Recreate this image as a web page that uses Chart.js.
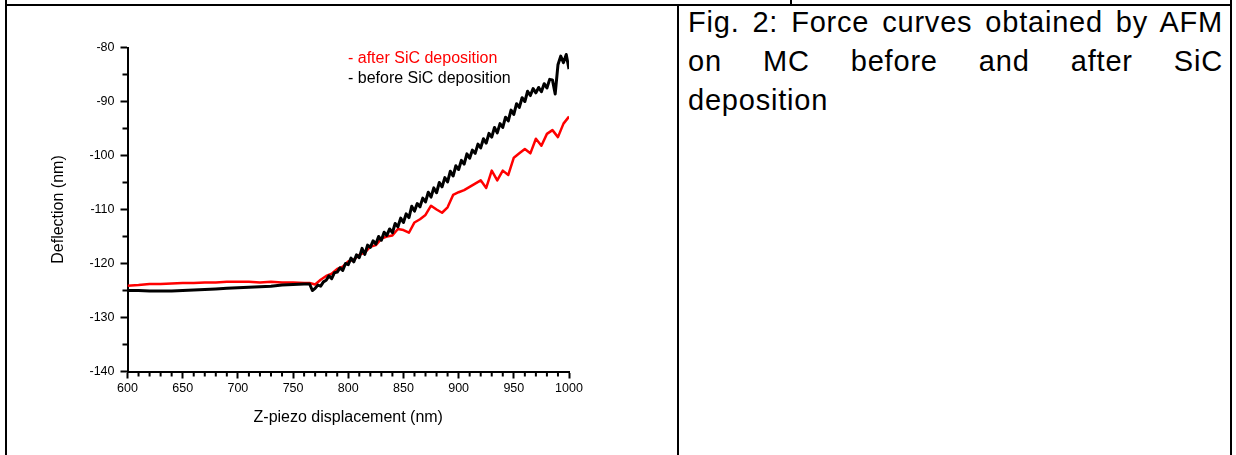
<!DOCTYPE html>
<html>
<head>
<meta charset="utf-8">
<script src="https://cdn.jsdelivr.net/npm/chart.js@4"></script>
<style>
  body{margin:0;background:#fff;font-family:"Liberation Sans",Arial,sans-serif;}
  #page{position:relative;width:1236px;height:455px;overflow:hidden;}
  .ln{position:absolute;background:#000;}
  #chartBox{position:absolute;left:0;top:0;width:678px;height:455px;}
  #legend{position:absolute;left:348px;top:48px;font-size:16px;line-height:20px;}
  #caption{position:absolute;left:688px;top:3px;width:535px;font-size:29px;letter-spacing:0.8px;line-height:39px;color:#000;}
  #caption .j{text-align:justify;text-align-last:justify;}
</style>
</head>
<body>
<div id="page">
  <div id="chartBox"><canvas id="afm"></canvas></div>
  <div id="legend"></div>
  <div id="caption">
    <div class="j">Fig. 2: Force curves obtained by AFM</div>
    <div class="j">on MC before and after SiC</div>
    <div>deposition</div>
  </div>
  <div class="ln" style="left:5px;top:0;width:2px;height:455px"></div>
  <div class="ln" style="left:1230px;top:0;width:2px;height:455px"></div>
  <div class="ln" style="left:790px;top:0;width:2px;height:5px"></div>
  <div class="ln" style="left:5px;top:4px;width:1227px;height:2px"></div>
  <div class="ln" style="left:677px;top:5px;width:2px;height:450px"></div>
</div>
<script>
// ---------- DATA ----------
const xTicks = [600, 650, 700, 750, 800, 850, 900, 950, 1000];
const yTicks = [-140, -130, -120, -110, -100, -90, -80];
const xMinor = [610,620,630,640,660,670,680,690,710,720,730,740,760,770,780,790,
  810,820,830,840,860,870,880,890,910,920,930,940,960,970,980,990];
const yMinor = [-135, -125, -115, -105, -95, -85];

const seriesNames = ['- before SiC deposition', '- after SiC deposition'];
const seriesColors = ['#000000', '#ff0000'];

// before SiC deposition (black)
const beforeX = [600,610,620,630,640,650,660,670,680,690,700,710,720,730,740,750,760,765,
  767.5,770,772.5,775,777.5,780,782.5,785,787.5,790,792.5,795,797.5,800,
  802.5,805,807.5,810,812.5,815,817.5,820,822.5,825,827.5,830,832.5,835,837.5,840,
  842.5,845,847.5,850,852.5,855,857.5,860,862.5,865,867.5,870,872.5,875,877.5,880,
  882.5,885,887.5,890,892.5,895,897.5,900,902.5,905,907.5,910,912.5,915,917.5,920,
  922.5,925,927.5,930,932.5,935,937.5,940,942.5,945,947.5,950,952.5,955,957.5,960,
  962.5,965,967.5,970,972.5,975,977.5,980,982.5,985,987.5,990,992.5,995,997.5,1000];
const beforeY = [-125.0,-125.0,-125.1,-125.1,-125.1,-125.0,-124.9,-124.8,-124.7,-124.6,-124.5,-124.4,-124.3,-124.2,-124.0,-123.9,-123.8,-123.8,
  -125.0,-124.6,-124.0,-124.2,-123.4,-123.1,-122.3,-122.8,-121.7,-121.6,-120.8,-121.3,-120.0,-120.2,
  -119.0,-119.7,-118.4,-118.9,-117.2,-118.3,-116.6,-117.0,-115.8,-116.4,-115.0,-115.7,-114.2,-114.8,-113.6,-114.3,
  -112.6,-113.2,-111.6,-112.4,-110.8,-111.5,-109.4,-110.3,-108.9,-109.5,-107.9,-108.6,-106.8,-107.7,-106.0,-106.9,
  -105.0,-105.8,-104.1,-104.9,-102.9,-103.8,-101.9,-102.6,-100.9,-101.6,-99.7,-100.5,-99.0,-99.6,-97.9,-98.6,
  -96.9,-97.7,-95.9,-96.6,-94.8,-95.8,-94.1,-94.8,-92.9,-93.6,-91.6,-92.4,-90.4,-91.1,-89.3,-90.0,
  -88.1,-88.9,-87.6,-88.4,-87.4,-88.2,-86.7,-87.5,-85.9,-86.0,-88.6,-83.2,-81.6,-82.8,-81.3,-84.0];

// after SiC deposition (red)
const afterX = [600,610,620,630,640,650,660,670,680,690,700,710,720,730,740,750,760,
  765,770,775,780,785,790,795,800,805,810,815,820,825,830,835,840,845,850,855,860,
  865,870,875,880,885,890,895,900,905,910,915,920,925,930,935,940,945,950,955,960,
  965,970,975,980,985,990,995,1000];
const afterY = [-124.1,-124.0,-123.8,-123.8,-123.7,-123.6,-123.6,-123.5,-123.5,-123.4,-123.4,-123.4,-123.5,-123.4,-123.5,-123.5,-123.6,
  -123.6,-123.9,-123.0,-122.3,-121.9,-121.0,-120.6,-119.6,-119.3,-118.4,-118.0,-116.9,-116.6,-115.4,-115.0,-114.8,-113.6,-113.8,-114.3,-112.4,
  -111.8,-111.0,-109.3,-110.0,-110.6,-109.6,-107.3,-106.8,-106.4,-105.8,-105.2,-104.6,-106.0,-102.8,-104.6,-102.8,-103.6,-100.4,-99.6,-98.8,
  -99.6,-96.9,-98.2,-96.0,-95.3,-96.6,-94.1,-92.8];

// ---------- LEGEND ----------
const legend = document.getElementById('legend');
[1, 0].forEach(i => {
  const d = document.createElement('div');
  d.textContent = seriesNames[i];
  d.style.color = seriesColors[i];
  legend.appendChild(d);
});

// ---------- CHART ----------
const minorTicks = {
  id: 'minorTicks',
  afterDraw(chart) {
    const ctx = chart.ctx, a = chart.chartArea;
    const xs = chart.scales.x, ys = chart.scales.y;
    ctx.save();
    ctx.strokeStyle = '#000';
    ctx.lineWidth = 2;
    ctx.beginPath();
    xMinor.forEach(v => { const p = xs.getPixelForValue(v); ctx.moveTo(p, a.bottom); ctx.lineTo(p, a.bottom + 5); });
    yMinor.forEach(v => { const p = ys.getPixelForValue(v); ctx.moveTo(a.left - 5, p); ctx.lineTo(a.left, p); });
    ctx.stroke();
    ctx.restore();
  }
};

const tickFont = { family: 'Liberation Sans', size: 12.5 };
const titleFont = { family: 'Liberation Sans', size: 16 };

new Chart(document.getElementById('afm'), {
  type: 'line',
  data: {
    datasets: [
      { label: seriesNames[0], data: beforeX.map((x, i) => ({ x, y: beforeY[i] })),
        borderColor: seriesColors[0], borderWidth: 3 },
      { label: seriesNames[1], data: afterX.map((x, i) => ({ x, y: afterY[i] })),
        borderColor: seriesColors[1], borderWidth: 2.5 }
    ]
  },
  options: {
    responsive: true, maintainAspectRatio: false, animation: false,
    layout: { padding: { left: 0, top: 47.5, right: 109, bottom: 0 } },
    elements: { point: { radius: 0 }, line: { tension: 0, borderJoinStyle: 'round', fill: false } },
    plugins: { legend: { display: false }, tooltip: { enabled: false } },
    scales: {
      x: {
        type: 'linear', min: 600, max: 1000,
        afterBuildTicks: s => { s.ticks = xTicks.map(v => ({ value: v })); },
        afterFit: s => { s.height = 83.5; },
        grid: { display: true, drawOnChartArea: false, drawTicks: true, tickLength: 7, tickWidth: 2, tickColor: '#000' },
        border: { display: true, color: '#000', width: 2 },
        ticks: { color: '#000', font: tickFont, padding: 3, maxRotation: 0, callback: v => String(v) },
        title: { display: true, text: 'Z-piezo displacement (nm)', color: '#000', font: titleFont, padding: { bottom: 28 } }
      },
      y: {
        type: 'linear', min: -140, max: -80,
        afterBuildTicks: s => { s.ticks = yTicks.map(v => ({ value: v })); },
        afterFit: s => { s.width = 127.5; },
        grid: { display: true, drawOnChartArea: false, drawTicks: true, tickLength: 7, tickWidth: 2, tickColor: '#000' },
        border: { display: true, color: '#000', width: 2 },
        ticks: { color: '#000', font: tickFont, padding: 6, callback: v => String(v) },
        title: { display: true, text: 'Deflection (nm)', color: '#000', font: titleFont, padding: { top: 48.5 } }
      }
    }
  },
  plugins: [minorTicks]
});
</script>
</body>
</html>
